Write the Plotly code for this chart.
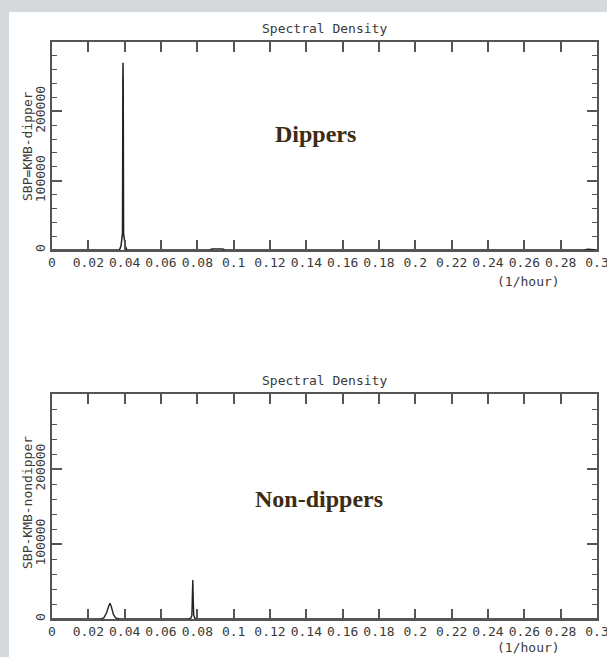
import plotly.graph_objects as go

# ---------------- data ----------------
x_ticks = [0, 0.02, 0.04, 0.06, 0.08, 0.1, 0.12, 0.14, 0.16, 0.18, 0.2, 0.22, 0.24, 0.26, 0.28, 0.3]
x_tick_text = ["0", "0.02", "0.04", "0.06", "0.08", "0.1", "0.12", "0.14", "0.16", "0.18",
               "0.2", "0.22", "0.24", "0.26", "0.28", "0.3"]
y_ticks = [0, 100000, 200000]
y_tick_text = ["0", "100000", "200000"]

# Dippers spectral density (1/hour)
dip_freq = [0, 0.0360, 0.0372, 0.0380, 0.0385, 0.0388, 0.0390, 0.0391, 0.0392, 0.0394,
            0.0397, 0.0403, 0.0412, 0.0420, 0.0870, 0.0880, 0.0940, 0.0950, 0.2930, 0.2950, 0.3]
dip_density = [0, 0, 400, 6000, 18000, 24000, 240000, 270000, 240000, 24000,
               18000, 6000, 400, 0, 0, 1500, 1500, 0, 0, 1200, 0]

# Non-dippers spectral density (1/hour)
non_freq = [0, 0.0270, 0.0285, 0.0300, 0.0312, 0.0319, 0.0326, 0.0338, 0.0350, 0.0362, 0.0370,
            0.0755, 0.0764, 0.0770, 0.0773, 0.0775, 0.0777, 0.0780, 0.0786, 0.0795, 0.3]
non_density = [0, 0, 1500, 8000, 17000, 21000, 17000, 6000, 1500, 500, 0,
               0, 1000, 5000, 30000, 52000, 30000, 5000, 1000, 0, 0]

panel_titles = ["Spectral Density", "Spectral Density"]
y_titles = ["SBP=KMB-dipper", "SBP-KMB-nondipper"]
group_labels = ["Dippers", "Non-dippers"]
x_unit = "(1/hour)"

# ---------------- layout helpers ----------------
W, H = 607, 657
def px(x):
    return x / W
def py(y):
    return 1 - y / H

MONO = "DejaVu Sans Mono"
AX = "#555555"
TXT = "#3a3a3a"

fig = go.Figure()
fig.add_trace(go.Scatter(x=dip_freq, y=dip_density, mode="lines",
                         line=dict(color="#222222", width=1.5), xaxis="x", yaxis="y",
                         showlegend=False, hoverinfo="skip"))
fig.add_trace(go.Scatter(x=non_freq, y=non_density, mode="lines",
                         line=dict(color="#222222", width=1.4), xaxis="x2", yaxis="y2",
                         showlegend=False, hoverinfo="skip"))

panels = [
    dict(top=42, bottom=250, left=52, right=597),
    dict(top=394, bottom=619, left=52, right=597),
]

def xaxis_cfg(p, anchor):
    return dict(domain=[px(p["left"]), px(p["right"])], anchor=anchor, range=[0, 0.3],
                tickvals=x_ticks, ticktext=x_tick_text, ticks="inside", ticklen=10,
                tickwidth=1.5, tickcolor=AX, showline=True, linecolor=AX, linewidth=1.5,
                mirror="ticks", showgrid=False, zeroline=False, automargin=False,
                ticklabeloverflow="allow",
                tickfont=dict(family=MONO, size=13, color=TXT), fixedrange=True)

def yaxis_cfg(p, anchor):
    return dict(domain=[py(p["bottom"]), py(p["top"])], anchor=anchor, range=[0, 300000],
                tickvals=y_ticks, ticktext=y_tick_text, ticks="inside", ticklen=10,
                tickwidth=1.5, tickcolor=AX, showline=True, linecolor=AX, linewidth=1.5,
                mirror="ticks", showgrid=False, zeroline=False, automargin=False,
                ticklabeloverflow="allow",
                tickangle=-90, tickfont=dict(family=MONO, size=13, color=TXT),
                minor=dict(dtick=20000, tick0=0, ticks="inside", ticklen=5, tickwidth=1.2,
                           tickcolor=AX, showgrid=False),
                fixedrange=True)

fig.update_layout(
    width=W, height=H, margin=dict(l=0, r=0, t=0, b=0),
    template="none",
    paper_bgcolor="#d6d9db", plot_bgcolor="rgba(0,0,0,0)",
    xaxis=xaxis_cfg(panels[0], "y"), yaxis=yaxis_cfg(panels[0], "x"),
    xaxis2=xaxis_cfg(panels[1], "y2"), yaxis2=yaxis_cfg(panels[1], "x2"),
    shapes=[dict(type="rect", xref="paper", yref="paper", x0=px(9), x1=1, y0=0, y1=py(12),
                 fillcolor="white", line=dict(width=0), layer="below")],
)

annotations = []
title_y = [28, 380]
unit_y = [281, 647]
ytitle_y = [146, 503]
label_pos = [(315, 134), (319, 499)]
for i in range(2):
    p = panels[i]
    annotations.append(dict(text=panel_titles[i], xref="paper", yref="paper",
                            x=px((p["left"] + p["right"]) / 2), y=py(title_y[i]),
                            showarrow=False, xanchor="center", yanchor="middle",
                            font=dict(family=MONO, size=13, color=TXT)))
    annotations.append(dict(text=x_unit, xref="paper", yref="paper",
                            x=px(528), y=py(unit_y[i]), showarrow=False,
                            xanchor="center", yanchor="middle",
                            font=dict(family=MONO, size=13, color=TXT)))
    annotations.append(dict(text=y_titles[i], xref="paper", yref="paper",
                            x=px(27), y=py(ytitle_y[i]), showarrow=False, textangle=-90,
                            xanchor="center", yanchor="middle",
                            font=dict(family=MONO, size=13, color=TXT)))
    annotations.append(dict(text="<b>" + group_labels[i] + "</b>", xref="paper", yref="paper",
                            x=px(label_pos[i][0]), y=py(label_pos[i][1]), showarrow=False,
                            xanchor="center", yanchor="middle",
                            font=dict(family="Liberation Serif", size=24, color="#3d2b12")))
fig.update_layout(annotations=annotations)

fig.write_html("out.html")
